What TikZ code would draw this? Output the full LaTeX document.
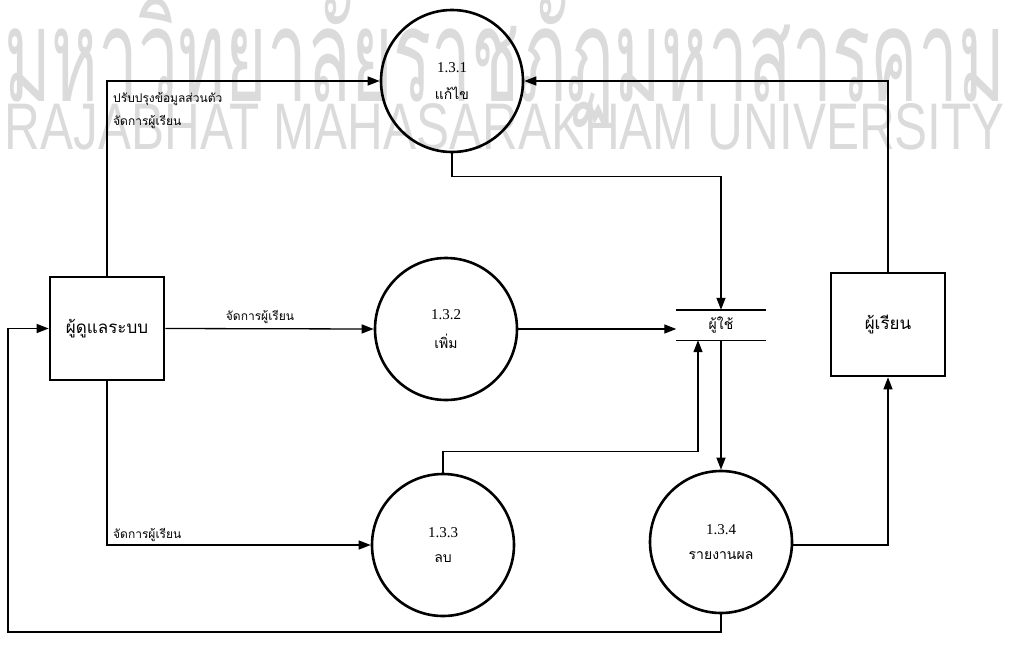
\documentclass[tikz,border=0pt]{standalone}
\usepackage{fontspec}
\setmainfont{Liberation Serif}
\newfontfamily\thaifont[Script=Thai]{Loma}
\newfontfamily\wmsans{Liberation Sans}
\usetikzlibrary{arrows.meta,calc}
\definecolor{wm}{gray}{0.86}
\newcommand\ptext[2]{{\fontsize{15}{15}\selectfont #1}\\[13pt]{\thaifont\fontsize{14}{14}\selectfont #2}}
\begin{document}
\begin{tikzpicture}[x=1pt,y=-1pt,
  arr/.style={draw, line width=1.3pt, -{Triangle[length=12pt,width=9pt]}},
  proc/.style={circle, draw, line width=2.6pt, minimum size=142pt, inner sep=0pt, align=center},
  ent/.style={rectangle, draw, line width=2.6pt, minimum width=114pt, minimum height=103pt, inner sep=0pt, font=\thaifont\fontsize{17}{20}\selectfont},
  lbl/.style={font=\thaifont\fontsize{12}{15}\selectfont, inner sep=1pt},
  wmark/.style={text=wm, inner sep=0pt}
]
\useasboundingbox (0,0) rectangle (1010,648);
% watermark
\node[wmark] (wmth) at (505,63) {\resizebox{1000pt}{104pt}{\thaifont มหาวิทยาลัยราชภัฏมหาสารคาม}};
\node[wmark] (wmen) at (505,127) {\resizebox{1000pt}{46pt}{\wmsans RAJABHAT MAHASARAKHAM UNIVERSITY}};

% nodes
\node[proc] (c1) at (452,81) {\ptext{1.3.1}{แก้ไข}};
\node[proc] (c2) at (446,329) {\ptext{1.3.2}{เพิ่ม}};
\node[proc] (c3) at (443,545) {\ptext{1.3.3}{ลบ}};
\node[proc] (c4) at (721,542) {\ptext{1.3.4}{รายงานผล}};
\node[ent] (admin) at (107,328.5) {ผู้ดูแลระบบ};
\node[ent] (learner) at (888,324.5) {ผู้เรียน};
\node[minimum width=89pt, minimum height=30pt, inner sep=0pt, font=\thaifont\fontsize{14}{16}\selectfont] (store) at (721,325) {ผู้ใช้};
\draw[line width=1.4pt] (store.north west) -- (store.north east);
\draw[line width=1.4pt] (store.south west) -- (store.south east);

\coordinate (lb) at (8,632);

% connectors
\draw[arr] (admin.north) |- (c1.west);
\draw[arr] (learner.north) |- (c1.east);
\draw[arr] (admin.east) -- (c2.west);
\draw[arr] (admin.south) |- (c3.west);
\draw[arr] (c1.south) -- ++(0,23) -| (store.north);
\draw[arr] (c2.east) -- (c2.east -| store.west);
\draw[arr] (c3.north) -- ++(0,-21) -| ([xshift=-23pt]store.south);
\draw[arr] (store.south) -- (c4.north);
\draw[arr] ([yshift=-3pt]c4.east) -| (learner.south);
\draw[arr] (c4.south) |- (lb) |- (admin.west);

% labels
\node[lbl, anchor=west] (l1) at (112,99) {ปรับปรุงข้อมูลส่วนตัว};
\node[lbl, anchor=west] (l2) at (112,122) {จัดการผู้เรียน};
\node[lbl] (l3) at (260,317) {จัดการผู้เรียน};
\node[lbl, anchor=west] (l4) at (112,535) {จัดการผู้เรียน};
\end{tikzpicture}
\end{document}
